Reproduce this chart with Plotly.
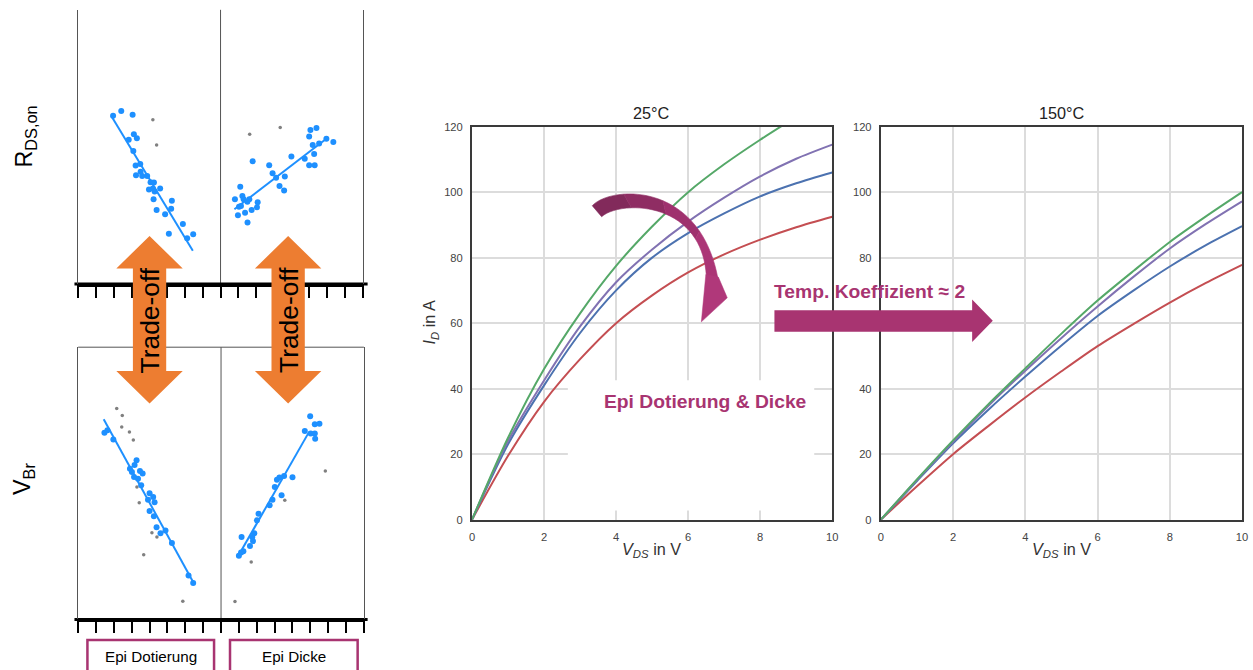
import plotly.graph_objects as go

W, H = 1253, 670
# small calibration between layout pixels and the photographed page
SX, OX = 0.9957, 1.33
SY, OY = 0.981, 6.19


def px(x):
    return ((x - OX) / SX) / W


def py(y):
    return 1 - ((y - OY) / SY) / H


def P(pt):
    return f"{px(pt[0]):.5f},{py(pt[1]):.5f}"


def path(points):
    return "M " + " L ".join(P(p) for p in points) + " Z"


def lerp(a, b, t):
    return (a[0] + (b[0] - a[0]) * t, a[1] + (b[1] - a[1]) * t)


def sub_bezier(c, t0, t1):
    """Return cubic control points of the part of bezier c between t0 and t1."""
    def split(cc, t):
        p01, p12, p23 = lerp(cc[0], cc[1], t), lerp(cc[1], cc[2], t), lerp(cc[2], cc[3], t)
        p012, p123 = lerp(p01, p12, t), lerp(p12, p23, t)
        m = lerp(p012, p123, t)
        return [cc[0], p01, p012, m], [m, p123, p23, cc[3]]
    _, right = split(c, t0)
    if t1 >= 1:
        return right
    tt = (t1 - t0) / (1 - t0)
    left, _ = split(right, tt)
    return left


def band_path(outer, inner):
    return ("M " + P(outer[0]) + " C " + " ".join(P(p) for p in outer[1:]) +
            " L " + P(inner[3]) + " C " + " ".join(P(p) for p in [inner[2], inner[1], inner[0]]) + " Z")


# ---------------- Data: output characteristics ----------------
vds = [0, 1, 2, 3, 4, 5, 6, 7, 8, 9, 10]
id25_green = [0, 25, 46, 63, 77.5, 89.5, 100, 108.5, 116, 123, 130]
id25_purple = [0, 24, 42.5, 59, 72.5, 82.5, 91, 98.3, 104.8, 110.2, 114.5]
id25_blue = [0, 23, 41, 57, 70, 80, 87.5, 93.5, 98.7, 102.7, 106]
id25_red = [0, 19.5, 36, 49, 60, 68.5, 75.5, 81, 85.5, 89.3, 92.5]

id150_green = [0, 12.3, 24.2, 35.5, 46.2, 56.8, 66.9, 76, 84.8, 92.6, 100]
id150_purple = [0, 12.1, 23.8, 35, 45.5, 55.5, 65.1, 74.2, 82.8, 90.3, 97.2]
id150_blue = [0, 11.8, 23.3, 33.8, 43.7, 53.2, 62.2, 70, 77.3, 83.8, 89.6]
id150_red = [0, 10.2, 20, 28.8, 37.3, 45.3, 53, 59.8, 66.3, 72.3, 77.8]

x_ticks = [0, 2, 4, 6, 8, 10]
y_ticks = [0, 20, 40, 60, 80, 100, 120]

# ---------------- Data: scatter panels (arbitrary units) ----------------
# R_DS,on vs Epi Dotierung
r_dot_x = [1.95, 2.41, 3.05, 3.12, 2.83, 3.29, 3.09, 3.22, 3.48, 3.24, 3.50, 3.59, 3.87, 4.06,
           4.25, 3.97, 4.19, 4.29, 4.60, 4.23, 5.26, 4.40, 4.88, 5.22, 5.88, 5.09, 6.12, 6.46]
r_dot_y = [61.4, 63.1, 61.7, 54.6, 52.6, 53.2, 48.5, 43.2, 43.8, 39.7, 41.0, 39.4, 39.4, 37.1,
           37.0, 34.5, 34.9, 33.8, 34.9, 30.9, 30.4, 27.0, 25.5, 27.5, 21.9, 18.4, 16.7, 18.2]
r_dot_out_x = [4.19, 4.40]
r_dot_out_y = [59.9, 50.7]
r_dot_fit_x = [1.85, 6.44]
r_dot_fit_y = [61.3, 12.2]

# R_DS,on vs Epi Dicke
r_dick_x = [8.81, 9.11, 9.23, 9.30, 9.51, 9.62, 9.04, 9.15, 8.98, 9.38, 9.52, 9.75, 10.05, 10.09,
            9.81, 10.74, 10.93, 11.13, 11.32, 11.58, 11.62, 11.99, 12.74, 12.99, 13.06, 13.40,
            12.99, 13.30, 13.27, 13.19, 13.55, 13.96, 14.35]
r_dick_y = [30.9, 35.5, 32.1, 30.9, 30.0, 30.9, 28.2, 28.5, 25.1, 26.0, 22.5, 27.0, 28.0, 29.8,
            44.8, 43.3, 40.4, 38.8, 35.8, 34.1, 39.2, 46.5, 45.7, 53.8, 56.2, 56.9,
            43.3, 43.3, 47.4, 50.7, 51.3, 53.0, 51.8]
r_dick_out_x = [9.64, 11.36]
r_dick_out_y = [54.6, 57.1]
r_dick_fit_x = [8.78, 13.92]
r_dick_fit_y = [27.3, 52.8]

# V_Br vs Epi Dotierung
v_dot_x = [1.47, 1.64, 1.97, 3.27, 3.16, 2.90, 3.01, 3.13, 3.46, 3.61, 3.35, 3.53, 4.00, 4.20,
           3.91, 4.28, 4.00, 4.24, 4.39, 4.89, 4.61, 5.25, 6.18, 6.44]
v_dot_y = [68.6, 69.5, 66.1, 58.5, 56.7, 55.4, 54.2, 52.3, 54.5, 53.6, 51.7, 49.3, 46.4, 45.0,
           44.0, 43.1, 39.8, 37.9, 33.9, 32.7, 31.7, 28.1, 16.2, 13.4]
v_dot_out_x = [2.16, 2.47, 2.44, 2.87, 3.09, 3.29, 3.42, 4.13, 4.41, 3.67, 5.86]
v_dot_out_y = [77.5, 74.9, 70.7, 68.9, 65.9, 48.7, 42.9, 31.9, 30.3, 23.8, 6.7]
v_dot_fit_x = [1.43, 6.46]
v_dot_fit_y = [73.5, 13.5]

# V_Br vs Epi Dicke
v_dick_x = [12.99, 13.25, 13.51, 12.69, 13.02, 13.25, 13.27, 12.0, 11.53, 11.27, 11.13, 11.01,
            11.39, 10.88, 10.72, 10.10, 10.01, 9.86, 9.75, 9.15, 9.79, 9.62, 9.25, 9.12, 9.00]
v_dick_y = [74.6, 71.7, 71.9, 69.2, 68.3, 68.3, 66.4, 52.2, 52.7, 52.1, 51.3, 48.7,
            45.6, 44.0, 42.0, 38.8, 36.4, 31.7, 30.3, 30.3, 28.8, 27.0, 25.1, 24.6, 23.4]
v_dick_out_x = [13.84, 11.57, 9.69, 8.78]
v_dick_out_y = [54.5, 43.8, 21.1, 6.6]
v_dick_fit_x = [8.97, 12.93]
v_dick_fit_y = [23.4, 68.9]

# ---------------- Styles ----------------
C_GREEN, C_PURPLE, C_BLUE, C_RED = "#55a868", "#8172b2", "#4c72b0", "#c44e52"
DOT = "#1e90ff"
OUT = "#808080"
MAG = "#a83471"
ORANGE = "#ed7d31"
FONT = "Liberation Sans, Arial, sans-serif"
FS = 1.015  # font size compensation

fig = go.Figure()

for xa, ya, series in [
    ("x", "y", [(id25_red, C_RED), (id25_blue, C_BLUE), (id25_purple, C_PURPLE), (id25_green, C_GREEN)]),
    ("x2", "y2", [(id150_red, C_RED), (id150_blue, C_BLUE), (id150_purple, C_PURPLE), (id150_green, C_GREEN)]),
]:
    for vals, col in series:
        fig.add_trace(go.Scatter(x=vds, y=vals, mode="lines", xaxis=xa, yaxis=ya,
                                 line=dict(color=col, width=2, shape="spline", smoothing=0.8),
                                 hoverinfo="skip"))

for xa, ya, groups in [
    ("x3", "y3", [(r_dot_x, r_dot_y, r_dot_out_x, r_dot_out_y, r_dot_fit_x, r_dot_fit_y),
                  (r_dick_x, r_dick_y, r_dick_out_x, r_dick_out_y, r_dick_fit_x, r_dick_fit_y)]),
    ("x4", "y4", [(v_dot_x, v_dot_y, v_dot_out_x, v_dot_out_y, v_dot_fit_x, v_dot_fit_y),
                  (v_dick_x, v_dick_y, v_dick_out_x, v_dick_out_y, v_dick_fit_x, v_dick_fit_y)]),
]:
    for gx, gy, ox, oy, fx, fy in groups:
        fig.add_trace(go.Scatter(x=ox, y=oy, mode="markers", xaxis=xa, yaxis=ya,
                                 marker=dict(color=OUT, size=3.5), hoverinfo="skip"))
        fig.add_trace(go.Scatter(x=gx, y=gy, mode="markers", xaxis=xa, yaxis=ya,
                                 marker=dict(color=DOT, size=6), hoverinfo="skip"))
        fig.add_trace(go.Scatter(x=fx, y=fy, mode="lines", xaxis=xa, yaxis=ya,
                                 line=dict(color=DOT, width=2), hoverinfo="skip"))

iv_x = dict(range=[0, 10], tickvals=x_ticks, showgrid=True, gridcolor="#dcdcdc", gridwidth=1.5,
            showline=True, linecolor="#3a3a3a", linewidth=2, mirror=True, zeroline=False,
            ticks="outside", ticklen=6, tickcolor="rgba(0,0,0,0)",
            tickfont=dict(family=FONT, size=11 * FS, color="#444"))
iv_y = dict(range=[0, 120], tickvals=y_ticks, showgrid=True, gridcolor="#dcdcdc", gridwidth=1.5,
            showline=True, linecolor="#3a3a3a", linewidth=2, mirror=True, zeroline=False,
            ticks="outside", ticklen=5, tickcolor="rgba(0,0,0,0)",
            tickfont=dict(family=FONT, size=11 * FS, color="#444"))

sc_x = dict(range=[0, 16], tick0=0, dtick=1, showgrid=False, zeroline=False, showline=True,
            linecolor="black", linewidth=3, ticks="outside", ticklen=11, tickwidth=1.5,
            tickcolor="black", showticklabels=False)
sc_y = dict(range=[0, 100], showgrid=False, zeroline=False, showline=True, linecolor="#555",
            linewidth=1, mirror=True, ticks="", showticklabels=False)

fig.update_layout(
    width=W, height=H, margin=dict(l=0, r=0, t=0, b=0, pad=0),
    paper_bgcolor="white", plot_bgcolor="white", showlegend=False,
    xaxis=dict(domain=[px(471.7), px(833)], anchor="y", **iv_x),
    yaxis=dict(domain=[py(519.3), py(126.7)], anchor="x", **iv_y),
    xaxis2=dict(domain=[px(881.7), px(1244)], anchor="y2", **iv_x),
    yaxis2=dict(domain=[py(519.3), py(126.7)], anchor="x2", **iv_y),
    xaxis3=dict(domain=[px(77), px(362)], anchor="y3", **sc_x),
    yaxis3=dict(domain=[py(284), py(10)], anchor="x3", **sc_y),
    xaxis4=dict(domain=[px(76.7), px(363.3)], anchor="y4", **sc_x),
    yaxis4=dict(domain=[py(619), py(347)], anchor="x4", **sc_y),
)

shapes = []
# white box behind the "Epi Dotierung & Dicke" label (hides gridlines)
shapes.append(dict(type="rect", xref="x", yref="y", x0=2.66, x1=9.5, y0=2.8, y1=42.6,
                   fillcolor="white", line=dict(width=0), layer="between"))
# middle separators of the scatter panels
for xr, yr in [("x3", "y3 domain"), ("x4", "y4 domain")]:
    shapes.append(dict(type="line", xref=xr, yref=yr, x0=8, x1=8, y0=0, y1=1,
                       line=dict(color="#555", width=1), layer="below"))
# top border of lower scatter panel
shapes.append(dict(type="line", xref="paper", yref="paper", x0=px(76.7), x1=px(363.3),
                   y0=py(347), y1=py(347), line=dict(color="#555", width=1)))
# thick base lines slightly overhanging the panels
for yb in [284, 619]:
    shapes.append(dict(type="line", xref="paper", yref="paper", x0=px(73), x1=px(367),
                       y0=py(yb), y1=py(yb), line=dict(color="black", width=3), layer="below"))

# orange trade-off double arrows
for cx in [148.3, 287.3]:
    pts = [(cx, 236), (cx + 33.3, 268.3), (cx + 16.7, 268.3), (cx + 16.7, 370.7),
           (cx + 33.3, 370.7), (cx, 403.3), (cx - 33.3, 370.7), (cx - 16.7, 370.7),
           (cx - 16.7, 268.3), (cx - 33.3, 268.3)]
    shapes.append(dict(type="path", xref="paper", yref="paper", path=path(pts),
                       fillcolor=ORANGE, line=dict(width=0)))

# label boxes (open at the bottom edge)
for x0, x1 in [(86, 213), (229, 357)]:
    shapes.append(dict(type="rect", xref="paper", yref="paper", x0=px(x0), x1=px(x1),
                       y0=py(639.5), y1=py(690), line=dict(color=MAG, width=2.5),
                       fillcolor="rgba(0,0,0,0)"))

# straight temperature arrow
shapes.append(dict(type="path", xref="paper", yref="paper",
                   path=path([(775, 310), (973.3, 310), (973.3, 299.3), (994, 320.5),
                              (973.3, 341.7), (973.3, 331.7), (775, 331.7)]),
                   fillcolor=MAG, line=dict(width=0)))

# curved arrow: band between two cubic curves, split in pieces for a colour gradient
outer_c = [(592.3, 205.7), (610, 186), (700, 180), (718.3, 278.3)]
inner_c = [(601.7, 216.7), (620, 200), (702, 200), (706.7, 275.7)]
grad = [(0.0, 0.3, "#822a5b"), (0.3, 0.55, "#8f2d63"), (0.55, 0.8, "#9f316e"), (0.8, 1.0, "#ab3576")]
for t0, t1, col in grad:
    o = sub_bezier(outer_c, t0, t1)
    i = sub_bezier(inner_c, t0, t1)
    shapes.append(dict(type="path", xref="paper", yref="paper", path=band_path(o, i),
                       fillcolor=col, line=dict(color=col, width=0.6)))
# head
shapes.append(dict(type="path", xref="paper", yref="paper",
                   path=path([(706.2, 274.5), (718.8, 277.0), (727.7, 297.7), (701.7, 321.7)]),
                   fillcolor="#b0387a", line=dict(color="#b0387a", width=0.5)))

fig.update_layout(shapes=shapes)

ann = []


def A(text, x, y, size, color="#222", angle=0, **kw):
    ann.append(dict(text=text, x=px(x), y=py(y), xref="paper", yref="paper", showarrow=False,
                    xanchor="center", yanchor="middle", textangle=angle,
                    font=dict(family=FONT, size=size * FS, color=color), **kw))


A("25°C", 652, 113, 16)
A("150°C", 1063, 113, 16)
A("<i>V<sub>DS</sub></i> in V", 652, 550, 16, "#333")
A("<i>V<sub>DS</sub></i> in V", 1063, 550, 16, "#333")
A("<i>I<sub>D</sub></i> in A", 430, 322, 16, "#333", angle=-90)
A("<b>Epi Dotierung &amp; Dicke</b>", 706, 401, 19, MAG)
A("<b>Temp. Koeffizient ≈ 2</b>", 870, 291, 19, MAG)
A("Trade-off", 149, 320, 26, "black", angle=-90)
A("Trade-off", 288, 320, 26, "black", angle=-90)
A("R<sub>DS,on</sub>", 24, 137, 23, "black", angle=-90)
A("V<sub>Br</sub>", 22, 479, 23, "black", angle=-90)
A("Epi Dotierung", 149.5, 656, 15, "black")
A("Epi Dicke", 293, 656, 15, "black")

fig.update_layout(annotations=ann)
fig.write_html("out.html")
